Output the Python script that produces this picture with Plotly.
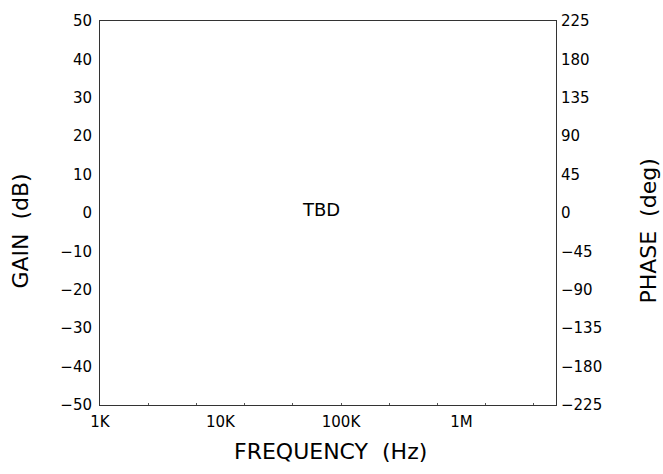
import plotly.graph_objects as go

# Data / tick definitions
freq_tickvals = [1e3, 1e4, 1e5, 1e6]
freq_ticktext = ["1K", "10K", "100K", "1M"]
gain_ticks = [-50, -40, -30, -20, -10, 0, 10, 20, 30, 40, 50]
phase_ticks = [-225, -180, -135, -90, -45, 0, 45, 90, 135, 180, 225]
minor_exp = [3.4, 3.8, 4.2, 4.6, 5.0, 5.4, 5.8, 6.2, 6.6]
center_text = "TBD"
x_title = "FREQUENCY  (Hz)"
y_title = "GAIN  (dB)"
y2_title = "PHASE  (deg)"

FONT = "DejaVu Sans"
W, H = 663, 474
L, R, T, B = 100, 107, 13, 69
PW, PH = W - L - R, H - T - B
xr = [3, 3 + 456 / 120.5]


def px(x):
    return (x - L) / PW


def py(y):
    return (H - B - y) / PH


fig = go.Figure()
fig.add_trace(go.Scatter(x=[1e3, 1e6], y=[None, None], mode="lines", showlegend=False, xaxis="x", yaxis="y"))
fig.add_trace(go.Scatter(x=[1e3], y=[None], mode="lines", showlegend=False, xaxis="x2", yaxis="y2"))

fig.update_layout(
    width=W, height=H,
    margin=dict(l=L, r=R, t=T, b=B),
    paper_bgcolor="white", plot_bgcolor="white",
    font=dict(family=FONT, size=15, color="black"),
    showlegend=False,
    xaxis=dict(type="log", range=xr, tickvals=freq_tickvals, ticktext=freq_ticktext,
               showgrid=False, zeroline=False, showline=True, linecolor="#333", linewidth=1,
               mirror=True, ticks="", tickfont=dict(size=15), ticklabelstandoff=3),
    xaxis2=dict(type="log", range=xr, overlaying="x", side="bottom",
                tickvals=[10 ** e for e in minor_exp], showticklabels=False,
                ticks="inside", ticklen=2, tickcolor="#555", showgrid=False,
                zeroline=False, showline=False),
    yaxis=dict(range=[-50, 50], tickvals=gain_ticks, showgrid=False, zeroline=False,
               showline=True, linecolor="#333", linewidth=1, mirror=True, ticks="",
               tickfont=dict(size=15), ticklabelstandoff=4),
    yaxis2=dict(range=[-225, 225], tickvals=phase_ticks, overlaying="y", side="right",
                showgrid=False, zeroline=False, showline=False, ticks="",
                tickfont=dict(size=15), ticklabelstandoff=4),
    annotations=[
        dict(text=center_text, x=px(321), y=py(205), xref="paper", yref="paper",
             xanchor="center", yanchor="middle", showarrow=False, font=dict(size=18)),
        dict(text=x_title, x=px(330), y=py(452), xref="paper", yref="paper",
             xanchor="center", yanchor="middle", showarrow=False, font=dict(size=22)),
        dict(text=y_title, x=px(21), y=py(228), xref="paper", yref="paper",
             xanchor="center", yanchor="middle", showarrow=False, textangle=-90,
             font=dict(size=22)),
        dict(text=y2_title, x=px(649), y=py(228), xref="paper", yref="paper",
             xanchor="center", yanchor="middle", showarrow=False, textangle=-90,
             font=dict(size=22)),
    ],
)

fig.write_html("out.html")
